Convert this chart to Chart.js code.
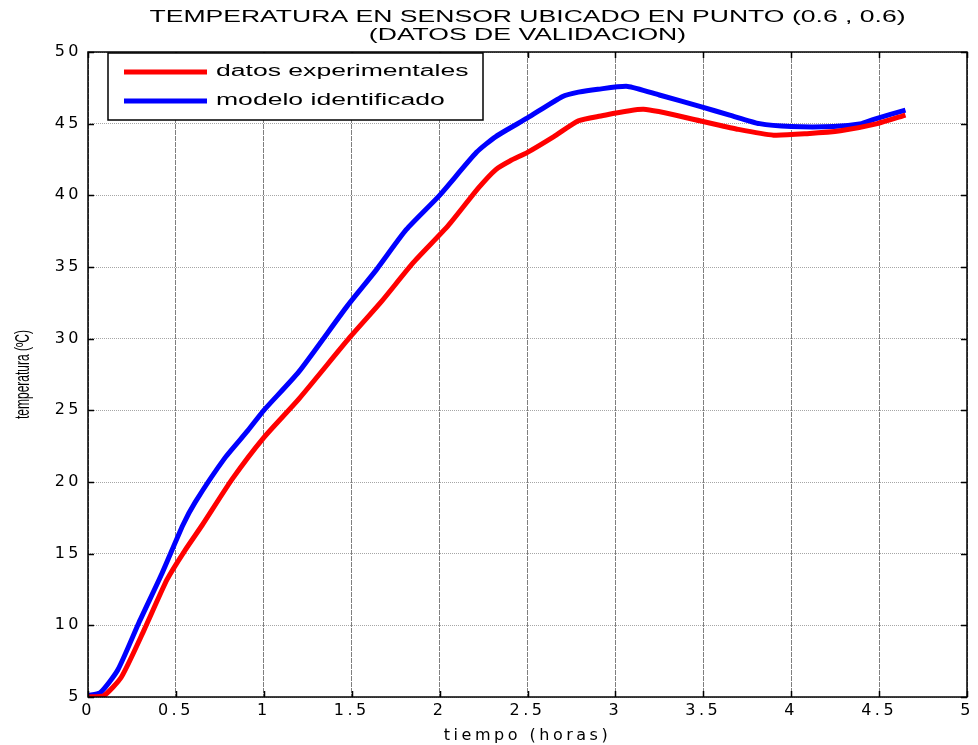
<!DOCTYPE html>
<html>
<head>
<meta charset="utf-8">
<script src="https://cdn.jsdelivr.net/npm/chart.js@4.4.1/dist/chart.umd.min.js"></script>
<style>
  body { margin: 0; background: #fff; }
  #contenedor { width: 978px; height: 745px; }
</style>
</head>
<body>
<div id="contenedor"><canvas id="grafico" width="978" height="745"></canvas></div>
<script>
// Datos (tiempo en horas, temperatura en ºC)
const tiempoExp = [0, 0.09, 0.19, 0.32, 0.45, 0.55, 0.65, 0.82, 1.0, 1.2, 1.49, 1.67, 1.85, 2.05, 2.22, 2.32, 2.4, 2.5, 2.65, 2.79, 2.9, 3.16, 3.48, 3.7, 3.9, 4.09, 4.28, 4.49, 4.65];
const tempExp = [5.0, 5.1, 6.4, 9.7, 13.2, 15.2, 17.0, 20.2, 23.1, 25.8, 30.1, 32.6, 35.3, 37.9, 40.5, 41.8, 42.4, 43.0, 44.1, 45.2, 45.5, 46.0, 45.2, 44.6, 44.2, 44.3, 44.5, 45.0, 45.6];

const tiempoModelo = [0, 0.07, 0.17, 0.29, 0.42, 0.54, 0.61, 0.78, 0.91, 1.0, 1.2, 1.47, 1.64, 1.81, 2.0, 2.21, 2.32, 2.5, 2.7, 2.79, 2.9, 3.07, 3.25, 3.48, 3.65, 3.82, 4.0, 4.24, 4.4, 4.47, 4.65];
const tempModelo = [5.1, 5.3, 6.9, 10.2, 13.6, 17.0, 18.6, 21.7, 23.6, 25.0, 27.7, 32.2, 34.8, 37.6, 40.0, 43.0, 44.1, 45.4, 46.9, 47.2, 47.4, 47.6, 47.0, 46.2, 45.6, 45.0, 44.8, 44.8, 45.0, 45.3, 45.95];

const ticksX = [0, 0.5, 1, 1.5, 2, 2.5, 3, 3.5, 4, 4.5, 5];
const ticksY = [5, 10, 15, 20, 25, 30, 35, 40, 45, 50];

const nombres = ['datos experimentales', 'modelo identificado'];
const titulo = ['TEMPERATURA EN SENSOR UBICADO EN PUNTO (0.6 , 0.6)', '(DATOS DE VALIDACION)'];
const tituloX = 'tiempo (horas)';
const tituloY = 'temperatura (ºC)';

const fuente = "'DejaVu Sans', 'Liberation Sans', Arial, sans-serif";
const fuenteArial = "'Liberation Sans', Arial, sans-serif";
const espaciado = '3.5px';
const ancho = 1.66; // la figura original esta estirada en horizontal

function puntos(xs, ys) {
    return xs.map((t, i) => ({ x: t, y: ys[i] }));
}

// texto estirado en horizontal
function textoAncho(ctx, txt, x, y, align) {
    ctx.save();
    ctx.translate(x, y);
    ctx.scale(ancho, 1);
    ctx.textAlign = align;
    ctx.fillText(txt, 0, 0);
    ctx.restore();
}

// espaciado de letras para los textos que dibuja Chart.js
const pluginEspaciado = {
    id: 'espaciado',
    beforeDraw(chart) {
        chart.ctx.letterSpacing = espaciado;
    }
};

// titulo, marco, marcas hacia dentro, leyenda y etiqueta del eje Y
const pluginMarco = {
    id: 'marco',
    afterDraw(chart) {
        const ctx = chart.ctx;
        const a = chart.chartArea;
        const x = chart.scales.x;
        const y = chart.scales.y;
        ctx.save();
        ctx.letterSpacing = '0px';

        // titulo
        ctx.fillStyle = '#000';
        ctx.font = '16px ' + fuenteArial;
        ctx.textBaseline = 'middle';
        const cx = (a.left + a.right) / 2;
        textoAncho(ctx, titulo[0], cx, 18, 'center');
        textoAncho(ctx, titulo[1], cx, 36, 'center');

        ctx.strokeStyle = '#000';
        ctx.lineWidth = 1.5;
        ctx.strokeRect(a.left, a.top, a.right - a.left, a.bottom - a.top);

        ctx.beginPath();
        ticksX.forEach(v => {
            const px = Math.round(x.getPixelForValue(v)) + 0.5;
            ctx.moveTo(px, a.bottom); ctx.lineTo(px, a.bottom - 6);
            ctx.moveTo(px, a.top); ctx.lineTo(px, a.top + 6);
        });
        ticksY.forEach(v => {
            const py = Math.round(y.getPixelForValue(v)) + 0.5;
            ctx.moveTo(a.left, py); ctx.lineTo(a.left + 6, py);
            ctx.moveTo(a.right, py); ctx.lineTo(a.right - 6, py);
        });
        ctx.stroke();

        // leyenda
        const caja = { x: a.left + 20, y: a.top + 1, w: 375, h: 67 };
        ctx.fillStyle = '#fff';
        ctx.fillRect(caja.x, caja.y, caja.w, caja.h);
        ctx.strokeStyle = '#000';
        ctx.lineWidth = 1.5;
        ctx.strokeRect(caja.x, caja.y, caja.w, caja.h);
        ctx.font = '16px ' + fuenteArial;
        chart.data.datasets.forEach((ds, i) => {
            const ly = caja.y + 19 + i * 29;
            ctx.strokeStyle = ds.borderColor;
            ctx.lineWidth = 5;
            ctx.beginPath();
            ctx.moveTo(caja.x + 16, ly);
            ctx.lineTo(caja.x + 99, ly);
            ctx.stroke();
            ctx.fillStyle = '#000';
            textoAncho(ctx, ds.label, caja.x + 108, ly, 'left');
        });

        // etiqueta eje Y, girada y tambien estirada en horizontal
        ctx.translate(24, (a.top + a.bottom) / 2);
        ctx.rotate(-Math.PI / 2);
        ctx.scale(1, ancho);
        ctx.font = '12px ' + fuenteArial;
        ctx.textAlign = 'center';
        ctx.fillStyle = '#000';
        ctx.fillText(tituloY, 0, 0);
        ctx.restore();
    }
};

const ctx = document.getElementById('grafico').getContext('2d');
new Chart(ctx, {
    type: 'line',
    data: {
        datasets: [
            {
                label: nombres[0],
                data: puntos(tiempoExp, tempExp),
                borderColor: '#ff0000',
                borderWidth: 5,
                pointRadius: 0,
                tension: 0.2,
                fill: false
            },
            {
                label: nombres[1],
                data: puntos(tiempoModelo, tempModelo),
                borderColor: '#0000ff',
                borderWidth: 5,
                pointRadius: 0,
                tension: 0.2,
                fill: false
            }
        ]
    },
    options: {
        responsive: false,
        animation: false,
        layout: { padding: { left: 0, right: 11, top: 52, bottom: 0 } },
        plugins: {
            legend: { display: false },
            tooltip: { enabled: false },
            title: { display: false }
        },
        scales: {
            x: {
                type: 'linear',
                min: 0,
                max: 5,
                afterBuildTicks: s => { s.ticks = ticksX.map(v => ({ value: v })); },
                afterFit: s => { s.height = 48; },
                ticks: {
                    color: '#000',
                    font: { family: fuente, size: 16 },
                    padding: 4,
                    maxRotation: 0,
                    callback: v => String(v)
                },
                grid: { color: 'rgba(0,0,0,0.5)', lineWidth: 1, drawTicks: false },
                border: { display: false, dash: [5, 1] },
                title: {
                    display: true,
                    text: tituloX,
                    color: '#000',
                    font: { family: fuente, size: 16 },
                    padding: { top: 0, bottom: 0 }
                }
            },
            y: {
                type: 'linear',
                min: 5,
                max: 50,
                afterBuildTicks: s => { s.ticks = ticksY.map(v => ({ value: v })); },
                afterFit: s => { s.width = 88; },
                ticks: {
                    color: '#000',
                    font: { family: fuente, size: 16 },
                    padding: 6,
                    callback: v => String(v)
                },
                grid: { color: 'rgba(0,0,0,0.35)', lineWidth: 1, drawTicks: false },
                border: { display: false, dash: [1, 1] }
            }
        }
    },
    plugins: [pluginEspaciado, pluginMarco]
});
</script>
</body>
</html>
